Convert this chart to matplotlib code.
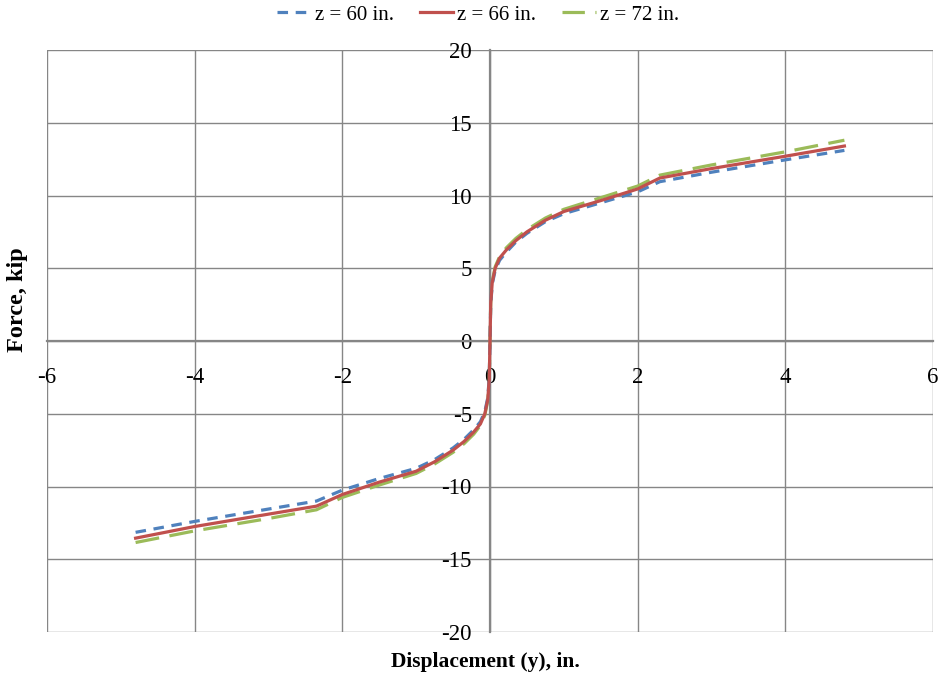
import matplotlib
matplotlib.use("Agg")
import matplotlib.pyplot as plt
from matplotlib.lines import Line2D

# Data
displacement = [-4.8, -4.0, -3.0, -2.35, -2.0, -1.5, -1.0, -0.75, -0.5, -0.35, -0.22, -0.13, -0.07, -0.03, -0.01,
                0.0, 0.01, 0.03, 0.07, 0.13, 0.22, 0.35, 0.5, 0.75, 1.0, 1.5, 2.0, 2.3, 3.0, 4.0, 4.8]
force_z60 = [-13.15, -12.4, -11.55, -11.0, -10.25, -9.45, -8.75, -8.15, -7.35, -6.75, -6.1, -5.55, -4.85, -3.9, -2.5,
             0.0, 2.5, 3.9, 4.85, 5.55, 6.1, 6.8, 7.4, 8.2, 8.75, 9.5, 10.25, 10.95, 11.6, 12.45, 13.1]
force_z66 = [-13.55, -12.75, -11.9, -11.35, -10.55, -9.7, -8.95, -8.3, -7.5, -6.9, -6.25, -5.7, -5.0, -4.0, -2.6,
             0.0, 2.6, 4.0, 5.0, 5.7, 6.25, 6.9, 7.5, 8.3, 8.9, 9.65, 10.45, 11.2, 11.85, 12.7, 13.4]
force_z72 = [-13.85, -13.05, -12.2, -11.6, -10.75, -9.9, -9.1, -8.45, -7.65, -7.05, -6.4, -5.8, -5.1, -4.1, -2.7,
             0.0, 2.7, 4.1, 5.1, 5.8, 6.4, 7.05, 7.65, 8.45, 9.05, 9.85, 10.65, 11.4, 12.1, 13.0, 13.8]
series_labels = ["z = 60 in.", "z = 66 in.", "z = 72 in."]
x_ticks = [-6, -4, -2, 0, 2, 4, 6]
y_ticks = [-20, -15, -10, -5, 0, 5, 10, 15, 20]

plt.rcParams['font.family'] = ['Liberation Serif', 'DejaVu Serif']

fig = plt.figure(figsize=(9.41, 6.81), dpi=100)
ax = fig.add_axes([47/941, 49/681, (933-47)/941, (632-50)/681])

grid_col = '#868686'
ax.set_xlim(-6, 6)
ax.set_ylim(-20, 20)
ax.set_xticks(x_ticks)
ax.set_yticks(y_ticks)
ax.set_xticklabels([str(v) for v in x_ticks])
ax.set_yticklabels([str(v) for v in y_ticks])
ax.grid(True, color=grid_col, linewidth=1.0)
ax.set_axisbelow(True)

for s in ['top', 'right']:
    ax.spines[s].set_visible(False)
ax.spines['left'].set_position('zero')
ax.spines['bottom'].set_position('zero')
ax.spines['left'].set_color(grid_col)
ax.spines['bottom'].set_color(grid_col)
ax.spines['left'].set_linewidth(1.6)
ax.spines['bottom'].set_linewidth(1.6)

ax.tick_params(axis='both', length=0, labelsize=16.5)
ax.tick_params(axis='y', pad=13)
ax.tick_params(axis='x', pad=19)

lw = 2.3
l1, = ax.plot(displacement, force_z60, color='#4F81BD', linewidth=lw, dashes=(3.3, 2.4), zorder=3)
l2, = ax.plot(displacement, force_z66, color='#C0504D', linewidth=lw, zorder=4)
l3, = ax.plot(displacement, force_z72, color='#9BBB59', linewidth=lw, dashes=(7.5, 3.3), zorder=2)

fig.text(18/941, 1 - 300/681, 'Force, kip', rotation=90, ha='center', va='center',
         fontsize=17.5, fontweight='bold')
fig.text(485/941, 1 - 662/681, 'Displacement (y), in.', ha='center', va='center',
         fontsize=15.5, fontweight='bold')

h1 = Line2D([], [], color='#4F81BD', linewidth=lw, dashes=(3.3, 2.4))
h2 = Line2D([], [], color='#C0504D', linewidth=lw)
h3 = Line2D([], [], color='#9BBB59', linewidth=lw, dashes=(7.0, 3.3, 0.5, 3.3))
fig.legend([h1, h2, h3], series_labels, loc='center', bbox_to_anchor=(478/941, 1 - 15/681),
           ncol=3, frameon=False, fontsize=15, handlelength=1.6, handletextpad=0.2,
           columnspacing=1.25, borderpad=0)

fig.savefig('out.png', dpi=100)
